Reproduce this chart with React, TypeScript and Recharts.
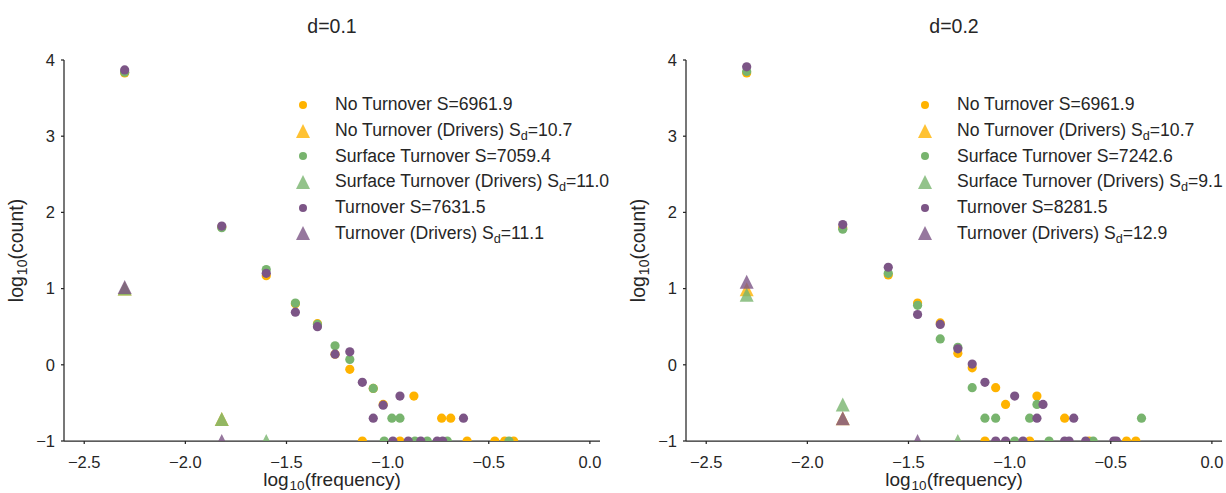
import React from "react";
import { Legend, Scatter, ScatterChart, XAxis, YAxis } from "recharts";

const ORANGE = "#ffb300";
const GREEN = "#78b46e";
const PURPLE = "#7c5586";
const INK = "#262626";
const FONT = '"Liberation Sans", Arial, Helvetica, sans-serif';

const xTicks = [-2.5, -2.0, -1.5, -1.0, -0.5, 0.0];
const yTicks = [-1, 0, 1, 2, 3, 4];
const xDomain = [-2.6, 0.05];
const yDomain = [-1, 4];

type Pt = [number, number]; // [log10 frequency, log10 count]

// d=0.1
const d1NoTurnover: Pt[] = [
  [-2.3, 3.83], [-1.82, 1.81], [-1.6, 1.17], [-1.456, 0.8], [-1.347, 0.54],
  [-1.26, 0.14], [-1.187, -0.06], [-1.125, -1], [-1.071, -0.31], [-1.022, -0.52],
  [-0.939, -1], [-0.87, -0.41], [-0.733, -0.7], [-0.688, -0.7], [-0.607, -1],
  [-0.47, -1], [-0.421, -1], [-0.377, -1],
];
const d1NoTurnoverDrivers: Pt[] = [[-2.3, 1.0], [-1.82, -0.71]];
const d1Surface: Pt[] = [
  [-2.3, 3.84], [-1.82, 1.8], [-1.6, 1.25], [-1.456, 0.81], [-1.347, 0.53],
  [-1.26, 0.25], [-1.187, 0.07], [-1.071, -0.31], [-1.017, -1], [-0.979, -0.7],
  [-0.939, -0.7], [-0.865, -1], [-0.804, -1], [-0.705, -1], [-0.4, -1],
];
const d1SurfaceDrivers: Pt[] = [[-2.3, 1.0], [-1.82, -0.71], [-1.6, -1]];
const d1Turnover: Pt[] = [
  [-2.3, 3.87], [-1.82, 1.82], [-1.6, 1.2], [-1.456, 0.69], [-1.347, 0.5],
  [-1.26, 0.14], [-1.187, 0.17], [-1.125, -0.23], [-1.071, -0.7], [-1.022, -0.53],
  [-0.974, -1], [-0.939, -0.41], [-0.898, -1], [-0.836, -1], [-0.755, -1],
  [-0.728, -1], [-0.625, -0.7],
];
const d1TurnoverDrivers: Pt[] = [[-2.3, 1.02], [-1.82, -1]];
const d1Names = [
  "No Turnover S=6961.9",
  "No Turnover (Drivers) S_d=10.7",
  "Surface Turnover S=7059.4",
  "Surface Turnover (Drivers) S_d=11.0",
  "Turnover S=7631.5",
  "Turnover (Drivers) S_d=11.1",
];

// d=0.2
const d2NoTurnover: Pt[] = [
  [-2.3, 3.83], [-1.825, 1.8], [-1.6, 1.18], [-1.455, 0.81], [-1.343, 0.55],
  [-1.256, 0.15], [-1.185, -0.04], [-1.122, -1], [-1.069, -0.3], [-1.02, -0.52],
  [-0.901, -1], [-0.865, -0.41], [-0.728, -0.7], [-0.607, -1], [-0.422, -1],
  [-0.376, -1],
];
const d2NoTurnoverDrivers: Pt[] = [[-2.3, 0.99], [-1.825, -0.7]];
const d2Surface: Pt[] = [
  [-2.3, 3.85], [-1.825, 1.78], [-1.6, 1.2], [-1.455, 0.78], [-1.343, 0.34],
  [-1.256, 0.23], [-1.185, -0.3], [-1.122, -0.7], [-1.069, -0.7], [-0.975, -1],
  [-0.901, -0.7], [-0.865, -0.52], [-0.805, -1], [-0.587, -1], [-0.348, -0.7],
];
const d2SurfaceDrivers: Pt[] = [[-2.3, 0.92], [-1.825, -0.52], [-1.256, -1]];
const d2Turnover: Pt[] = [
  [-2.3, 3.91], [-1.825, 1.84], [-1.6, 1.28], [-1.455, 0.66], [-1.343, 0.53],
  [-1.256, 0.21], [-1.185, 0.01], [-1.122, -0.23], [-1.069, -1], [-1.02, -1],
  [-0.975, -0.41], [-0.934, -1], [-0.865, -0.7], [-0.835, -0.52], [-0.728, -1],
  [-0.706, -1], [-0.683, -0.7], [-0.624, -1], [-0.485, -1], [-0.472, -1],
];
const d2TurnoverDrivers: Pt[] = [[-2.3, 1.09], [-1.825, -0.7], [-1.455, -1]];
const d2Names = [
  "No Turnover S=6961.9",
  "No Turnover (Drivers) S_d=10.7",
  "Surface Turnover S=7242.6",
  "Surface Turnover (Drivers) S_d=9.1",
  "Turnover S=8281.5",
  "Turnover (Drivers) S_d=12.9",
];

const toRows = (pts: Pt[]) => pts.map(([x, y]) => ({ x, y }));
const minus = (s: string) => s.replace("-", "\u2212");

function dot(color: string) {
  return (p: any) => <circle cx={p.cx} cy={p.cy} r={4.6} fill={color} />;
}

function tri(color: string) {
  return (p: any) => (
    <polygon
      points={`${p.cx},${p.cy - 7} ${p.cx - 7},${p.cy + 7} ${p.cx + 7},${p.cy + 7}`}
      fill={color}
      fillOpacity={0.8}
    />
  );
}

function withSub(label: string) {
  const [head, tail] = label.split("_d");
  if (tail === undefined) return label;
  return (
    <>
      {head}
      <span style={{ fontSize: "0.72em", verticalAlign: "-0.3em", lineHeight: 0 }}>d</span>
      {tail}
    </>
  );
}

const seriesColors = [ORANGE, ORANGE, GREEN, GREEN, PURPLE, PURPLE];

function LegendBox({ names }: { names: string[] }) {
  return (
    <div style={{ fontFamily: FONT, color: INK, fontSize: 17.6 }}>
      {names.map((n, i) => (
        <div key={n} style={{ display: "flex", alignItems: "center", height: 25.7 }}>
          <svg width={24} height={24} style={{ flexShrink: 0 }}>
            {i % 2 === 0 ? (
              <circle cx={12} cy={12} r={4} fill={seriesColors[i]} />
            ) : (
              <polygon points="12,5 5,19 19,19" fill={seriesColors[i]} fillOpacity={0.8} />
            )}
          </svg>
          <span style={{ marginLeft: 20, whiteSpace: "nowrap", flexShrink: 0 }}>{withSub(n)}</span>
        </div>
      ))}
    </div>
  );
}

function XLabel(props: any) {
  const vb = props.viewBox || { x: 64, y: 441, width: 536 };
  return (
    <text x={vb.x + vb.width / 2} y={vb.y + 45} textAnchor="middle" fontSize={19} fill={INK} fontFamily={FONT}>
      log<tspan dx={1} dy={4} fontSize={13.5}>10</tspan>
      <tspan dy={-4}>(frequency)</tspan>
    </text>
  );
}

function YLabel(props: any) {
  const vb = props.viewBox || { x: 0, y: 60, height: 381 };
  const x = 23;
  const y = vb.y + vb.height / 2;
  return (
    <text x={x} y={y} transform={`rotate(-90, ${x}, ${y})`} textAnchor="middle" fontSize={19.5} fill={INK} fontFamily={FONT}>
      log<tspan dx={1} dy={4} fontSize={14}>10</tspan>
      <tspan dy={-4}>(count)</tspan>
    </text>
  );
}

interface PanelProps {
  title: string;
  left: number;
  width: number;
  rightMargin: number;
  legendLeft: number;
  names: string[];
  series: Pt[][];
}

function Panel({ title, left, width, rightMargin, legendLeft, names, series }: PanelProps) {
  const plotLeft = 64;
  const plotWidth = width - plotLeft - rightMargin;
  const axisLine = { stroke: INK, strokeWidth: 1.25 };
  const tick = { fill: INK, fontSize: 16.5, fontFamily: FONT };
  return (
    <div style={{ position: "absolute", left, top: 0, width, height: 493 }}>
      <div
        style={{
          position: "absolute",
          left: plotLeft,
          width: plotWidth,
          top: 17,
          textAlign: "center",
          fontFamily: FONT,
          fontSize: 19.5,
          lineHeight: "19px",
          color: INK,
        }}
      >
        {title}
      </div>
      <ScatterChart
        width={width}
        height={493}
        margin={{ top: 60, right: rightMargin, bottom: 0, left: 0 }}
        style={{ overflow: "visible" }}
      >
        <XAxis
          type="number"
          dataKey="x"
          domain={xDomain}
          ticks={xTicks}
          allowDataOverflow
          tickFormatter={(v: number) => minus(v.toFixed(1))}
          tick={tick}
          tickSize={3}
          tickMargin={12.5}
          axisLine={axisLine}
          tickLine={axisLine}
          height={52}
          label={{ content: (p: any) => <XLabel {...p} /> }}
        />
        <YAxis
          type="number"
          dataKey="y"
          domain={yDomain}
          ticks={yTicks}
          allowDataOverflow
          tickFormatter={(v: number) => minus(String(v))}
          tick={tick}
          tickSize={3}
          tickMargin={6}
          axisLine={axisLine}
          tickLine={axisLine}
          width={64}
          label={{ content: (p: any) => <YLabel {...p} /> }}
        />
        <Legend
          layout="vertical"
          align="center"
          verticalAlign="middle"
          wrapperStyle={{ left: legendLeft, top: 92, width: 360 }}
          content={() => <LegendBox names={names} />}
        />
        {series.map((pts, i) => (
          <Scatter
            key={names[i]}
            name={names[i]}
            data={toRows(pts)}
            shape={i % 2 === 0 ? dot(seriesColors[i]) : tri(seriesColors[i])}
            isAnimationActive={false}
          />
        ))}
      </ScatterChart>
    </div>
  );
}

export default function App() {
  return (
    <div style={{ position: "absolute", left: 0, top: 0, width: 1226, height: 493, background: "#fff", overflow: "hidden" }}>
      <Panel
        title="d=0.1"
        left={0}
        width={620}
        rightMargin={20}
        legendLeft={291}
        names={d1Names}
        series={[d1NoTurnover, d1NoTurnoverDrivers, d1Surface, d1SurfaceDrivers, d1Turnover, d1TurnoverDrivers]}
      />
      <Panel
        title="d=0.2"
        left={622}
        width={604}
        rightMargin={4}
        legendLeft={291}
        names={d2Names}
        series={[d2NoTurnover, d2NoTurnoverDrivers, d2Surface, d2SurfaceDrivers, d2Turnover, d2TurnoverDrivers]}
      />
    </div>
  );
}
